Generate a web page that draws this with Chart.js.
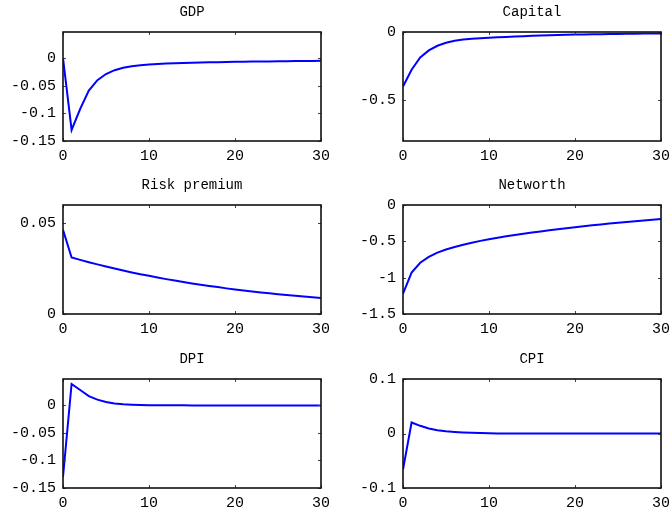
<!DOCTYPE html>
<html><head><meta charset="utf-8">
<script src="https://cdn.jsdelivr.net/npm/chart.js@4.4.1/dist/chart.umd.min.js"></script>
<style>
html,body{margin:0;padding:0;background:#fff;width:671px;height:518px;overflow:hidden;position:relative}
canvas{position:absolute}
</style></head><body>
<script>
// ---- data ----
const periods = [0,1,2,3,4,5,6,7,8,9,10,11,12,13,14,15,16,17,18,19,20,21,22,23,24,25,26,27,28,29,30];
const titles = ["GDP","Capital","Risk premium","Networth","DPI","CPI"];
const gdp = [0,-0.130,-0.092,-0.059,-0.040,-0.029,-0.022,-0.0175,-0.0148,-0.0130,-0.0117,-0.0107,-0.0100,-0.0094,-0.0089,-0.0085,-0.0081,-0.0078,-0.0075,-0.0072,-0.0069,-0.0067,-0.0065,-0.0063,-0.0061,-0.0059,-0.0057,-0.0055,-0.0053,-0.0052,-0.0050];
const capital = [-0.400,-0.277,-0.187,-0.135,-0.101,-0.079,-0.064,-0.055,-0.049,-0.045,-0.042,-0.039,-0.036,-0.033,-0.031,-0.028,-0.026,-0.024,-0.022,-0.020,-0.019,-0.018,-0.017,-0.016,-0.015,-0.014,-0.013,-0.012,-0.0115,-0.011,-0.0105];
const riskPremium = [0.0463,0.0311,0.0298,0.0285,0.0273,0.0261,0.0250,0.0239,0.0229,0.0219,0.0210,0.0201,0.0192,0.0184,0.0176,0.0168,0.0161,0.0154,0.0148,0.0141,0.0135,0.0130,0.0124,0.0119,0.0114,0.0109,0.0104,0.0100,0.0096,0.0092,0.0088];
const networth = [-1.22,-0.93,-0.795,-0.715,-0.655,-0.612,-0.578,-0.548,-0.520,-0.494,-0.470,-0.450,-0.431,-0.413,-0.396,-0.380,-0.364,-0.349,-0.334,-0.320,-0.306,-0.293,-0.280,-0.268,-0.256,-0.245,-0.234,-0.223,-0.213,-0.203,-0.193];
const dpi = [-0.130,0.039,0.028,0.017,0.0105,0.0062,0.0037,0.0023,0.0014,0.0008,0.0005,0.0003,0.0002,0.0001,0.0001,0,0,0,0,0,0,0,0,0,0,0,0,0,0,0,0];
const cpi = [-0.066,0.0202,0.0141,0.0092,0.0061,0.0042,0.0029,0.0019,0.0012,0.0007,0.0004,0.0002,0.0001,0.0001,0,0,0,0,0,0,0,0,0,0,0,0,0,0,0,0,0];
const xTicks = [0,10,20,30];
const gdpTicks = [-0.15,-0.1,-0.05,0];
const capitalTicks = [-0.5,0];
const riskTicks = [0,0.05];
const networthTicks = [-1.5,-1,-0.5,0];
const dpiTicks = [-0.15,-0.1,-0.05,0];
const cpiTicks = [-0.1,0,0.1];
const yRanges = [[-0.15,0.047],[-0.8,0],[0,0.06],[-1.5,0],[-0.15,0.048],[-0.1,0.1]];

const series = [gdp,capital,riskPremium,networth,dpi,cpi];
const yTickSets = [gdpTicks,capitalTicks,riskTicks,networthTicks,dpiTicks,cpiTicks];

// ---- layout ----
const cols = [{left:0,width:335,padR:14},{left:340,width:331,padR:10}];
const rowTops = [0,173,347];
const canvasH = 171;
const FONT = "'Liberation Mono','DejaVu Sans Mono',monospace";

const framePlugin = {
  id:'frame',
  afterDraw(chart){
    const {ctx, chartArea:a, scales:{x,y}} = chart;
    ctx.save();
    ctx.strokeStyle = '#444';
    ctx.lineWidth = 1;
    ctx.beginPath();
    x.ticks.forEach(t=>{
      const px = Math.round(x.getPixelForValue(t.value))+0.5;
      ctx.moveTo(px,a.bottom); ctx.lineTo(px,a.bottom-3);
      ctx.moveTo(px,a.top); ctx.lineTo(px,a.top+3);
    });
    y.ticks.forEach(t=>{
      const py = Math.round(y.getPixelForValue(t.value))+0.5;
      ctx.moveTo(a.left,py); ctx.lineTo(a.left+3,py);
      ctx.moveTo(a.right,py); ctx.lineTo(a.right-3,py);
    });
    ctx.stroke();
    ctx.strokeStyle = '#111';
    ctx.lineWidth = 1.6;
    ctx.strokeRect(a.left,a.top,a.right-a.left,a.bottom-a.top);
    ctx.restore();
  }
};

series.forEach((vals,i)=>{
  const col = cols[i%2];
  const cv = document.createElement('canvas');
  cv.width = col.width; cv.height = canvasH;
  cv.style.left = col.left+'px'; cv.style.top = rowTops[Math.floor(i/2)]+'px';
  document.body.appendChild(cv);
  const yt = yTickSets[i];
  new Chart(cv,{
    type:'line',
    data:{datasets:[{data:periods.map((p,k)=>({x:p,y:vals[k]})),borderColor:'#0000ff',borderWidth:2,pointRadius:0,tension:0,fill:false}]},
    options:{
      responsive:false, animation:false, events:[],
      layout:{padding:{left:0,right:col.padR,top:0,bottom:0}},
      plugins:{
        legend:{display:false}, tooltip:{enabled:false},
        title:{display:true,text:titles[i],fullSize:false,color:'#000',
          font:{family:FONT,size:14,weight:'normal',lineHeight:1.2},padding:{top:3.5,bottom:11.7}}
      },
      scales:{
        x:{type:'linear',min:0,max:30,
          afterBuildTicks:s=>{s.ticks=xTicks.map(v=>({value:v}));},
          afterFit:s=>{s.height=30;s.paddingLeft=0;s.paddingRight=0;},
          grid:{display:false,drawTicks:false},border:{display:false},
          ticks:{color:'#000',font:{family:FONT,size:15},padding:6,maxRotation:0,autoSkip:false,callback:v=>String(v)}},
        y:{type:'linear',min:yRanges[i][0],max:yRanges[i][1],
          afterBuildTicks:s=>{s.ticks=yt.map(v=>({value:v}));},
          afterFit:s=>{s.width=63;s.paddingTop=0;s.paddingBottom=0;},
          grid:{display:false,drawTicks:false},border:{display:false},
          ticks:{color:'#000',font:{family:FONT,size:15},padding:7,autoSkip:false,callback:v=>String(v)}}
      }
    },
    plugins:[framePlugin]
  });
});
</script>
</body></html>
